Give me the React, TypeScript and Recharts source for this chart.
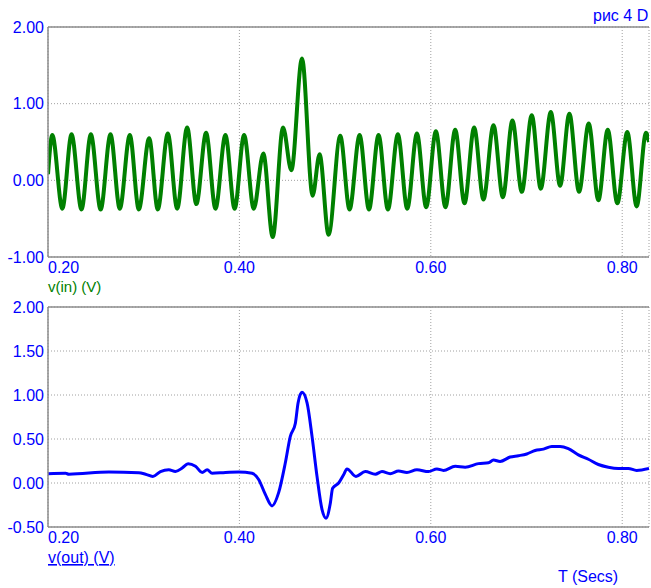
import { LineChart, Line, XAxis, YAxis, CartesianGrid, ReferenceLine } from "recharts";

const BLUE = "#0000ff";
const GREEN = "#008000";
const FRAME = "#8c8c8c";
const FONT = "'Liberation Sans', Arial, sans-serif";

const T_MIN = 0.2;
const T_MAX = 0.828;
const TIME_TICKS = [0.2, 0.4, 0.6, 0.8];
const IN_TICKS = [-1, 0, 1, 2];
const OUT_TICKS = [-0.5, 0, 0.5, 1, 1.5, 2];

// v(in): peaks and troughs
const IN_T = [
  0.2, 0.2045, 0.215, 0.2246, 0.235, 0.2448, 0.255, 0.2653, 0.275, 0.2855, 0.2949,
  0.3057, 0.3147, 0.3252, 0.335, 0.3454, 0.355, 0.3652, 0.375, 0.3854, 0.395, 0.4049,
  0.415, 0.425, 0.4348, 0.4456, 0.4543, 0.4654, 0.4765, 0.4838, 0.4932, 0.5054, 0.5151,
  0.5256, 0.5354, 0.5454, 0.5552, 0.5656, 0.5754, 0.5855, 0.5952, 0.6053, 0.6153, 0.6255,
  0.6352, 0.6453, 0.655, 0.6655, 0.6753, 0.6853, 0.6951, 0.7055, 0.7149, 0.7254, 0.7351,
  0.7448, 0.7549, 0.765, 0.7751, 0.7849, 0.7949, 0.8053, 0.8151, 0.8249, 0.828,
];
const IN_V = [
  0.08, 0.59, -0.37, 0.6, -0.38, 0.6, -0.38, 0.6, -0.37, 0.59, -0.38,
  0.55, -0.38, 0.61, -0.37, 0.69, -0.31, 0.62, -0.37, 0.59, -0.37, 0.59,
  -0.37, 0.35, -0.74, 0.69, 0.13, 1.59, -0.2, 0.34, -0.71, 0.58, -0.38,
  0.59, -0.38, 0.59, -0.38, 0.6, -0.37, 0.61, -0.35, 0.64, -0.35, 0.66,
  -0.3, 0.69, -0.25, 0.72, -0.22, 0.78, -0.15, 0.85, -0.11, 0.89, -0.07,
  0.87, -0.15, 0.74, -0.26, 0.66, -0.3, 0.63, -0.34, 0.62, 0.5,
];

// v(out)
const OUT_T = [
  0.2, 0.2184, 0.2218, 0.2636, 0.2949, 0.3019, 0.3095, 0.3175, 0.3262, 0.3332, 0.3402,
  0.3464, 0.3541, 0.3611, 0.3663, 0.3715, 0.3854, 0.3993, 0.4133, 0.4201, 0.4271, 0.4341,
  0.441, 0.448, 0.4532, 0.4585, 0.4613, 0.4654, 0.4707, 0.4759, 0.4811, 0.4863, 0.4905,
  0.495, 0.4974, 0.5037, 0.5089, 0.5124, 0.5218, 0.5315, 0.542, 0.549, 0.5576, 0.5663,
  0.575, 0.5855, 0.5976, 0.6064, 0.6133, 0.6255, 0.6359, 0.6498, 0.6603, 0.6655, 0.6724,
  0.6829, 0.6916, 0.7003, 0.709, 0.7177, 0.7264, 0.7351, 0.7437, 0.7542, 0.7646, 0.7751,
  0.7855, 0.7959, 0.8064, 0.8151, 0.828,
];
const OUT_V = [
  0.106, 0.11, 0.1, 0.125, 0.117, 0.1, 0.075, 0.13, 0.15, 0.13, 0.17,
  0.22, 0.19, 0.12, 0.15, 0.11, 0.12, 0.125, 0.11, 0.04, -0.13, -0.26,
  -0.11, 0.23, 0.53, 0.68, 0.91, 1.03, 0.91, 0.53, 0.075, -0.3, -0.4,
  -0.23, -0.06, 0.0, 0.094, 0.16, 0.075, 0.13, 0.1, 0.13, 0.106, 0.136,
  0.12, 0.15, 0.13, 0.16, 0.143, 0.19, 0.18, 0.22, 0.23, 0.26, 0.245,
  0.295, 0.31, 0.33, 0.37, 0.385, 0.415, 0.415, 0.39, 0.32, 0.27, 0.21,
  0.18, 0.166, 0.166, 0.143, 0.166,
];

const inData = IN_T.map((t, i) => ({ t, v: IN_V[i] }));
const outData = OUT_T.map((t, i) => ({ t, v: OUT_V[i] }));

function TimeTick({ x, y, payload }: any) {
  const first = payload.value === T_MIN;
  return (
    <text
      x={x}
      y={y}
      dy="0.71em"
      textAnchor={first ? "start" : "middle"}
      fill={BLUE}
      fontSize={16}
      fontFamily={FONT}
    >
      {Number(payload.value).toFixed(2)}
    </text>
  );
}

const fmt = (v: number) => v.toFixed(2);

interface PanelProps {
  data: { t: number; v: number }[];
  ticks: number[];
  height: number;
  top: number;
  color: string;
  strokeWidth: number;
  xAxisHeight: number;
}

function Panel({ data, ticks, height, top, color, strokeWidth, xAxisHeight }: PanelProps) {
  return (
    <LineChart
      width={651}
      height={height}
      data={data}
      margin={{ top, right: 2, left: 0, bottom: 0 }}
    >
      <CartesianGrid stroke="#a0a0a0" strokeDasharray="1 2" />
      <XAxis
        dataKey="t"
        type="number"
        domain={[T_MIN, T_MAX]}
        ticks={TIME_TICKS}
        interval={0}
        allowDataOverflow
        height={xAxisHeight}
        tickSize={0}
        tickMargin={5}
        tick={<TimeTick />}
        axisLine={{ stroke: FRAME, strokeWidth: 1.5 }}
        tickLine={false}
      />
      <YAxis
        type="number"
        domain={[ticks[0], ticks[ticks.length - 1]]}
        ticks={ticks}
        interval={0}
        width={48}
        tickSize={0}
        tickMargin={4}
        tickFormatter={fmt}
        tick={{ fill: BLUE, fontSize: 16, fontFamily: FONT }}
        axisLine={{ stroke: FRAME, strokeWidth: 1.5 }}
        tickLine={false}
      />
      <ReferenceLine y={ticks[ticks.length - 1]} stroke={FRAME} strokeWidth={1.5} />
      <Line
        dataKey="v"
        type="monotone"
        stroke={color}
        strokeWidth={strokeWidth}
        dot={false}
        isAnimationActive={false}
      />
    </LineChart>
  );
}

export default function App() {
  return (
    <div
      style={{
        position: "absolute",
        left: 0,
        top: 0,
        width: 651,
        height: 588,
        background: "#fff",
        fontFamily: FONT,
      }}
    >
      <div style={{ position: "absolute", left: 0, top: 0 }}>
        <Panel data={inData} ticks={IN_TICKS} height={300} top={27} color={GREEN} strokeWidth={4} xAxisHeight={43} />
      </div>
      <div style={{ position: "absolute", left: 0, top: 290 }}>
        <Panel data={outData} ticks={OUT_TICKS} height={298} top={17} color={BLUE} strokeWidth={3} xAxisHeight={61} />
      </div>
      <svg
        width={651}
        height={588}
        style={{ position: "absolute", left: 0, top: 0, pointerEvents: "none" }}
        fontFamily={FONT}
        fontSize={16}
      >
        <text x={593} y={21} fill={BLUE}>рис 4 D</text>
        <text x={48} y={292} fill={GREEN} fontSize={15}>v(in) (V)</text>
        <text x={48} y={563} fill={BLUE} textDecoration="underline">v(out) (V)</text>
        <text x={558} y={582} fill={BLUE}>T (Secs)</text>
      </svg>
    </div>
  );
}
